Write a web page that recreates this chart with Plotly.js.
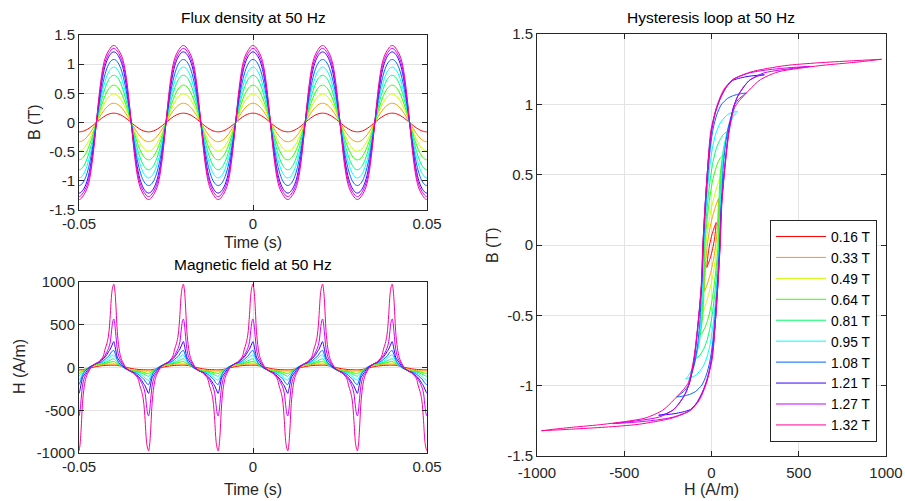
<!DOCTYPE html>
<html>
<head>
<meta charset="utf-8">
<script src="https://cdn.plot.ly/plotly-3.0.1.min.js"></script>
<style>
  html, body { margin: 0; padding: 0; background: #ffffff; }
  #chart { width: 905px; height: 501px; }
</style>
</head>
<body>
<div id="chart"></div>
<script>
// ---- data (one half period, from a positive peak at t = 0 to the next trough at t = 10 ms) ----
const tHalfMs = [0, 0.25, 0.5, 0.75, 1, 1.5, 2, 2.5, 3, 3.5, 4, 4.5, 5, 5.5, 6, 6.5, 7, 7.5, 8, 8.5, 9, 9.25, 9.5, 9.75, 10];

const levelNames = ['0.16 T', '0.33 T', '0.49 T', '0.64 T', '0.81 T', '0.95 T', '1.08 T', '1.21 T', '1.27 T', '1.32 T'];
const levelColors = ['#ff0000', '#ff9900', '#ccff00', '#33ff00', '#00ff66', '#00ffff', '#0066ff', '#3300ff', '#cc00ff', '#ff0099'];

// flux density B (T)
const B016 = [0.16, 0.1595, 0.158, 0.1556, 0.1522, 0.1426, 0.1294, 0.1131, 0.094, 0.0726, 0.0494, 0.025, 0, -0.025, -0.0494, -0.0726, -0.094, -0.1131, -0.1294, -0.1426, -0.1522, -0.1556, -0.158, -0.1595, -0.16];
const B033 = [0.33, 0.329, 0.3259, 0.3209, 0.3139, 0.294, 0.267, 0.2333, 0.194, 0.1498, 0.102, 0.0516, 0, -0.0516, -0.102, -0.1498, -0.194, -0.2333, -0.267, -0.294, -0.3139, -0.3209, -0.3259, -0.329, -0.33];
const B049 = [0.49, 0.4885, 0.4842, 0.477, 0.4669, 0.4384, 0.3992, 0.35, 0.2918, 0.226, 0.1542, 0.0781, 0, -0.0781, -0.1542, -0.226, -0.2918, -0.35, -0.3992, -0.4384, -0.4669, -0.477, -0.4842, -0.4885, -0.49];
const B064 = [0.64, 0.6382, 0.6327, 0.6237, 0.611, 0.5749, 0.5249, 0.4616, 0.386, 0.2998, 0.2049, 0.104, 0, -0.104, -0.2049, -0.2998, -0.386, -0.4616, -0.5249, -0.5749, -0.611, -0.6237, -0.6327, -0.6382, -0.64];
const B081 = [0.81, 0.8078, 0.8014, 0.7905, 0.7753, 0.7318, 0.6706, 0.5921, 0.4971, 0.3874, 0.2656, 0.1351, 0, -0.1351, -0.2656, -0.3874, -0.4971, -0.5921, -0.6706, -0.7318, -0.7753, -0.7905, -0.8014, -0.8078, -0.81];
const B095 = [0.95, 0.9476, 0.9407, 0.9291, 0.9111, 0.8633, 0.7963, 0.7075, 0.598, 0.4695, 0.3239, 0.1654, 0, -0.1654, -0.3239, -0.4695, -0.598, -0.7075, -0.7963, -0.8633, -0.9111, -0.9291, -0.9407, -0.9476, -0.95];
const B108 = [1.08, 1.0777, 1.071, 1.0598, 1.0421, 0.9954, 0.9252, 0.8316, 0.7117, 0.5649, 0.3931, 0.2022, 0, -0.2022, -0.3931, -0.5649, -0.7117, -0.8316, -0.9252, -0.9954, -1.0421, -1.0598, -1.071, -1.0777, -1.08];
const B121 = [1.21, 1.2073, 1.1997, 1.187, 1.1689, 1.1241, 1.0575, 0.9669, 0.8387, 0.6741, 0.4755, 0.246, 0, -0.246, -0.4755, -0.6741, -0.8387, -0.9669, -1.0575, -1.1241, -1.1689, -1.187, -1.1997, -1.2073, -1.21];
const B127 = [1.27, 1.2668, 1.2579, 1.2433, 1.223, 1.1773, 1.1176, 1.0351, 0.9135, 0.7433, 0.5286, 0.2761, 0, -0.2761, -0.5286, -0.7433, -0.9135, -1.0351, -1.1176, -1.1773, -1.223, -1.2433, -1.2579, -1.2668, -1.27];
const B132 = [1.32, 1.317, 1.309, 1.295, 1.275, 1.23, 1.175, 1.10, 0.984, 0.811, 0.584, 0.307, 0, -0.307, -0.584, -0.811, -0.984, -1.10, -1.175, -1.23, -1.275, -1.295, -1.309, -1.317, -1.32];

// magnetic field H (A/m)
const H016 = [27, 26.8, 26.3, 25.5, 24.4, 21.3, 17.3, 12.7, 7.7, 2.6, -2.3, -6.9, -11, -14.6, -17.7, -20.2, -22.2, -23.8, -25.1, -25.9, -26.5, -26.7, -26.9, -27, -27];
const H033 = [40, 39.7, 38.7, 37.1, 34.9, 28.9, 21.4, 13, 4.3, -4.1, -11.7, -18.4, -24, -28.5, -32, -34.6, -36.5, -37.8, -38.8, -39.4, -39.7, -39.9, -39.9, -40, -40];
const H049 = [52, 51.6, 50.2, 48.1, 45.2, 37.3, 27.3, 16.2, 4.8, -6.2, -16.2, -24.8, -32, -37.7, -42.1, -45.4, -47.8, -49.4, -50.5, -51.3, -51.7, -51.8, -51.9, -52, -52];
const H064 = [72, 67, 60, 53, 47, 33, 20, 7, -4, -14, -23, -31, -38, -39.5, -41, -43, -45, -48, -52, -57, -63, -66, -69, -71, -72];
const H081 = [102, 94, 83, 72, 62, 42, 24, 9, -4, -15, -25, -34, -42, -44, -47, -51, -55, -60, -67, -77, -87, -92, -97, -100, -102];
const H095 = [148, 135, 115, 95, 78, 48, 26, 8, -6, -17, -27, -36, -45, -48, -52, -58, -65, -75, -88, -105, -124, -133, -140, -145, -148];
const H108 = [200, 180, 150, 120, 92, 55, 30, 10, -5, -16, -27, -37, -47, -53, -60, -68, -80, -95, -115, -130, -160, -178, -188, -196, -200];
const H121 = [303, 270, 215, 165, 120, 86, 56, 27, 3, -13, -26, -38, -48, -55, -70, -86, -102, -124, -150, -185, -215, -240, -262, -287, -303];
const H127 = [567, 520, 420, 310, 218, 125, 82, 48, 17, -8, -23, -37, -49, -57, -74, -92, -114, -142, -180, -225, -300, -390, -480, -545, -567];
const H132 = [975, 920, 800, 610, 420, 225, 120, 68, 30, -4, -20, -35, -50, -60, -80, -102, -135, -215, -280, -380, -620, -790, -900, -950, -975];

const Bseries = [B016, B033, B049, B064, B081, B095, B108, B121, B127, B132];
const Hseries = [H016, H033, H049, H064, H081, H095, H108, H121, H127, H132];

// tick labels
const tTicks = [-0.05, 0, 0.05], tTickText = ['-0.05', '0', '0.05'];
const bTicks = [-1.5, -1, -0.5, 0, 0.5, 1, 1.5], bTickText = ['-1.5', '-1', '-0.5', '0', '0.5', '1', '1.5'];
const hTicks = [-1000, -500, 0, 500, 1000], hTickText = ['-1000', '-500', '0', '500', '1000'];

// ---- helpers: repeat the half period over -50 ms .. 50 ms using half-wave symmetry ----
function timeSeries(vals) {
  const t = [], v = [];
  for (let m = -5; m < 5; m++) {
    const s = (Math.abs(m) % 2 === 0) ? 1 : -1;
    for (let j = (m === -5 ? 0 : 1); j < tHalfMs.length; j++) {
      t.push((10 * m + tHalfMs[j]) / 1000);
      v.push(s * vals[j]);
    }
  }
  return { t, v };
}
function loopOf(Bv, Hv) {
  return {
    x: Hv.concat(Hv.slice(1).map(h => -h)),
    y: Bv.concat(Bv.slice(1).map(b => -b))
  };
}

const FONT = 'Liberation Sans, Arial, Helvetica, sans-serif';
const TXT = '#262626';
const traces = [];
for (let k = 0; k < levelNames.length; k++) {
  const b = timeSeries(Bseries[k]);
  const h = timeSeries(Hseries[k]);
  const lp = loopOf(Bseries[k], Hseries[k]);
  traces.push({ x: b.t, y: b.v, xaxis: 'x', yaxis: 'y', type: 'scatter', mode: 'lines',
    line: { color: levelColors[k], width: 1, shape: 'spline', smoothing: 1 }, showlegend: false, hoverinfo: 'skip' });
  traces.push({ x: h.t, y: h.v, xaxis: 'x2', yaxis: 'y2', type: 'scatter', mode: 'lines',
    line: { color: levelColors[k], width: 1, shape: 'spline', smoothing: 1 }, showlegend: false, hoverinfo: 'skip' });
  traces.push({ x: lp.x, y: lp.y, xaxis: 'x3', yaxis: 'y3', type: 'scatter', mode: 'lines', name: levelNames[k],
    line: { color: levelColors[k], width: 1, shape: 'spline', smoothing: 0.7 }, showlegend: true, hoverinfo: 'skip' });
}

const W = 905, Hh = 501;
const px = v => v / W, py = v => 1 - v / Hh;
function ax(extra) {
  return Object.assign({
    showline: true, linecolor: TXT, linewidth: 1, mirror: 'ticks',
    ticks: 'inside', ticklen: 5, tickwidth: 1, tickcolor: TXT,
    showgrid: true, gridcolor: '#e3e3e3', gridwidth: 1, zeroline: false,
    tickfont: { family: FONT, size: 15, color: TXT }, tickmode: 'array', fixedrange: true
  }, extra);
}
function label(text, x, y, size, color, angle) {
  return { text: text, x: px(x), y: py(y), xref: 'paper', yref: 'paper', xanchor: 'center', yanchor: 'middle',
    showarrow: false, textangle: angle || 0, font: { family: FONT, size: size, color: color } };
}

const layout = {
  width: W, height: Hh,
  margin: { l: 0, r: 0, t: 0, b: 0 },
  paper_bgcolor: '#ffffff', plot_bgcolor: '#ffffff',
  font: { family: FONT, size: 15, color: TXT },
  showlegend: true,
  xaxis:  ax({ domain: [px(79), px(427)], range: [-0.05, 0.05], tickvals: tTicks, ticktext: tTickText, anchor: 'y' }),
  yaxis:  ax({ domain: [py(210), py(35)], range: [-1.5, 1.5], tickvals: bTicks, ticktext: bTickText, anchor: 'x' }),
  xaxis2: ax({ domain: [px(79), px(427)], range: [-0.05, 0.05], tickvals: tTicks, ticktext: tTickText, anchor: 'y2' }),
  yaxis2: ax({ domain: [py(453), py(282)], range: [-1000, 1000], tickvals: hTicks, ticktext: hTickText, anchor: 'x2' }),
  xaxis3: ax({ domain: [px(537), px(886)], range: [-1000, 1000], tickvals: hTicks, ticktext: hTickText, anchor: 'y3', ticklabelstandoff: 3 }),
  yaxis3: ax({ domain: [py(456), py(34)], range: [-1.5, 1.5], tickvals: bTicks, ticktext: bTickText, anchor: 'x3' }),
  legend: {
    x: px(877), xanchor: 'right', y: py(442), yanchor: 'bottom',
    bgcolor: '#ffffff', bordercolor: TXT, borderwidth: 1,
    font: { family: FONT, size: 13.8, color: '#000000' }, itemwidth: 50, traceorder: 'normal'
  },
  annotations: [
    label('Flux density at 50 Hz', 253, 18, 15.5, '#000000'),
    label('Magnetic field at 50 Hz', 253, 264, 15.5, '#000000'),
    label('Hysteresis loop at 50 Hz', 711, 17, 15.5, '#000000'),
    label('Time (s)', 253, 243, 16, TXT),
    label('Time (s)', 253, 489, 16, TXT),
    label('H (A/m)', 711, 489, 16, TXT),
    label('B (T)', 34, 122, 16, TXT, -90),
    label('H (A/m)', 19, 367, 16, TXT, -90),
    label('B (T)', 492, 245, 16, TXT, -90)
  ]
};

Plotly.newPlot('chart', traces, layout, { staticPlot: true, displayModeBar: false });
</script>
</body>
</html>
